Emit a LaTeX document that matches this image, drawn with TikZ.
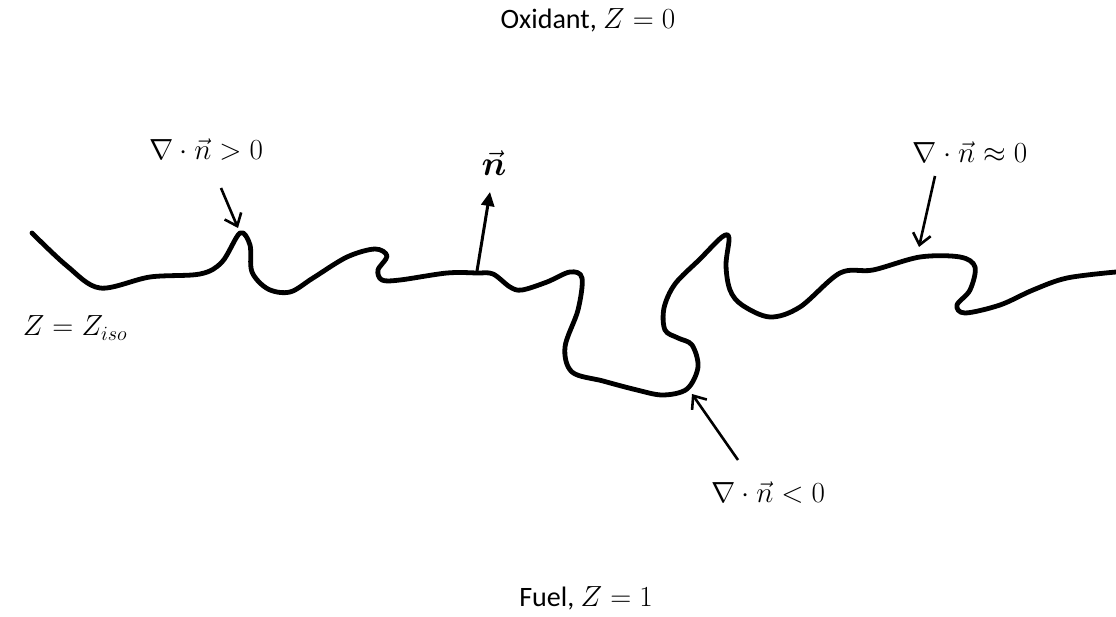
\documentclass[tikz,border=0pt]{standalone}
\usepackage{amsmath}
\usepackage{fontspec}
\setmainfont{Carlito}
\usetikzlibrary{arrows.meta}
\newcommand{\bigtxt}[1]{\scalebox{1.17}{#1}}
\tikzset{
  front/.style={line width=4.8pt, line cap=round, line join=round},
  pointer/.style={line width=2.6pt, -{Straight Barb[length=11pt,width=18pt,line width=2.6pt]}},
  normalarrow/.style={line width=3pt, -{Triangle[length=14pt,width=13pt]}},
  lbl/.style={font=\fontsize{24}{29}\selectfont, inner sep=0pt}
}
\begin{document}
\begin{tikzpicture}[x=1pt,y=-1pt]
\useasboundingbox (0,0) rectangle (1116,617);
% iso-surface
\draw[front] plot[smooth, tension=0.55] coordinates {
 (32,233) (67,266) (100,288) (150,277) (200,274) (222,262) (240,233) (250,245)
 (252,272) (268,289) (290,292) (313,278) (347,257) (375,249) (387,256) (378,270)
 (382,280) (400,280) (447,273) (477,273) (493,274) (510,287) (522,290) (547,282)
 (570,272) (582,278) (578,310) (565,347) (572,372) (603,381) (637,390) (663,395)
 (687,389) (698,367) (692,345) (678,338) (665,330) (664,308) (675,284) (700,259)
 (722,237) (729,238) (726,265) (730,290) (742,305) (770,317) (800,307) (840,273)
 (873,270) (920,257) (960,257) (975,267) (970,290) (957,305) (965,313) (1000,305)
 (1033,290) (1067,278) (1116,272)};
% labels
\node[lbl] (ox) at (588,20) {\bigtxt{Oxidant, $Z=0$}};
\node[lbl] (fu) at (586,598) {\bigtxt{Fuel, $Z=1$}};
\node[lbl] (iso) at (75,328) {\bigtxt{$Z=Z_{iso}$}};
\node[lbl] (pos) at (206,150) {\bigtxt{$\nabla\cdot\vec{n}>0$}};
\node[lbl] (zer) at (970,152) {\bigtxt{$\nabla\cdot\vec{n}\approx0$}};
\node[lbl] (neg) at (768,493) {\bigtxt{$\nabla\cdot\vec{n}<0$}};
\node[lbl] (nn) at (494,163) {\scalebox{1.4}{$\vec{\boldsymbol{n}}$}};
% arrow ends
\coordinate (posS) at (221,188);
\coordinate (posT) at (238,228);
\coordinate (zerS) at (935,176);
\coordinate (zerT) at (919,247);
\coordinate (negS) at (738,460);
\coordinate (negT) at (692,394);
\coordinate (nS) at (477,271);
\coordinate (nT) at (490,192);
\draw[pointer] (posS) -- (posT);
\draw[pointer] (zerS) -- (zerT);
\draw[pointer] (negS) -- (negT);
\draw[normalarrow] (nS) -- (nT);
\end{tikzpicture}
\end{document}
